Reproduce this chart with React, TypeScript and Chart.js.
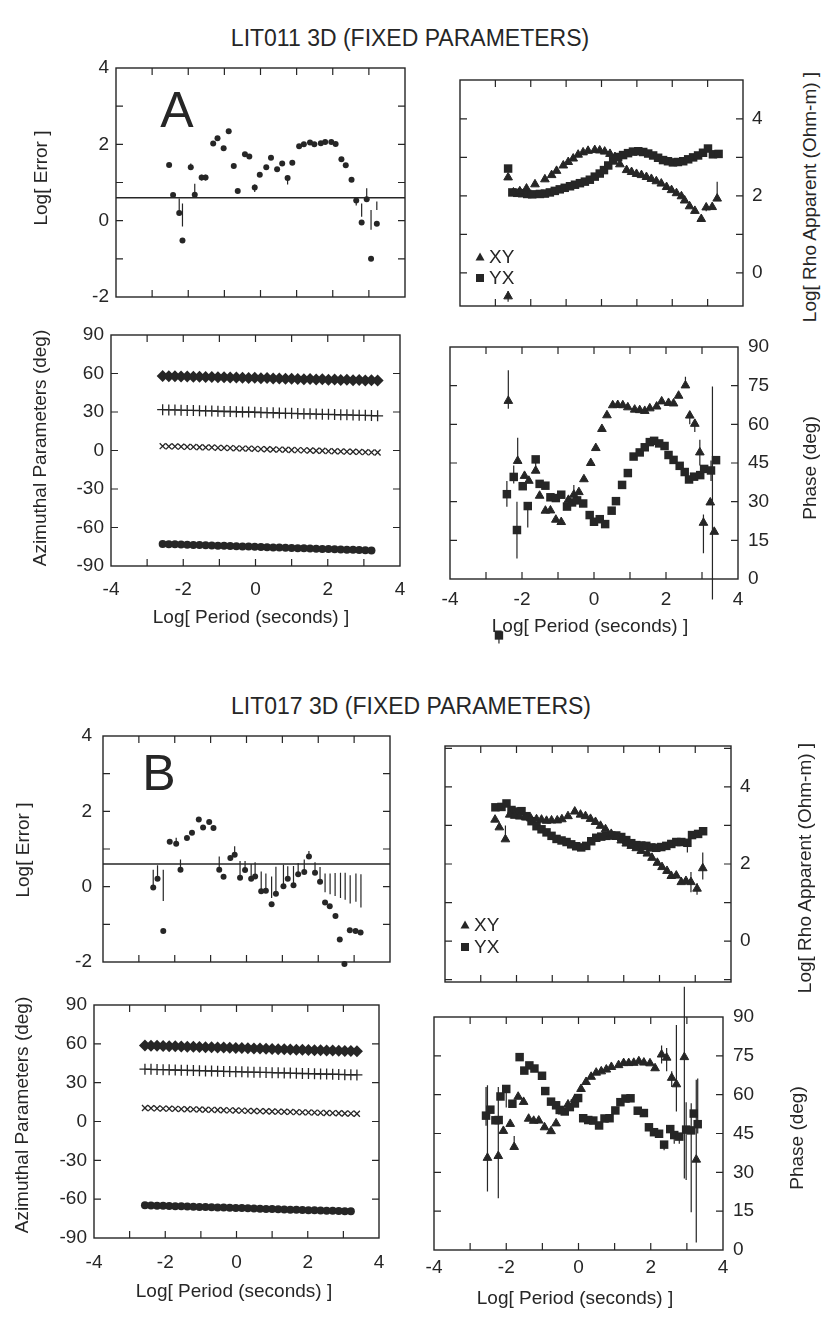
import React, { useEffect, useRef } from 'react';
import { Chart, registerables } from 'chart.js';

Chart.register(...registerables);

const FONT = '"Liberation Sans", Arial, Helvetica, sans-serif';
const INK = '#262626';

type Bar = [number, number, number];

// ================= LIT011 (A) =================
const errA_x = [-2.53, -2.42, -2.25, -2.16, -1.93, -1.82, -1.63, -1.52, -1.31, -1.19, -1.02, -0.88, -0.74, -0.63, -0.43, -0.31, -0.16, -0.02, 0.16, 0.29, 0.46, 0.6, 0.75, 0.88, 1.07, 1.2, 1.37, 1.49, 1.67, 1.79, 1.96, 2.08, 2.24, 2.36, 2.52, 2.65, 2.8, 2.94, 3.06, 3.22];
const errA_y = [1.46, 0.67, 0.2, -0.52, 1.4, 0.68, 1.13, 1.13, 2.02, 2.16, 1.9, 2.34, 1.43, 0.78, 1.74, 1.68, 0.87, 1.2, 1.4, 1.65, 1.35, 1.5, 1.12, 1.52, 1.95, 2.0, 2.05, 2.0, 2.03, 2.06, 2.06, 2.01, 1.61, 1.45, 1.07, 0.53, -0.05, 0.56, -1.0, -0.08];
const errA_bars: Bar[] = [[-2.25, 0.2, 0.58], [-2.16, -0.15, 0.45], [-1.93, 1.4, 1.5], [-1.82, 0.68, 0.97], [-1.63, 1.05, 1.2], [-1.52, 1.05, 1.2], [-0.16, 0.75, 0.95], [0.75, 0.95, 1.12], [2.65, 0.4, 0.6], [2.8, 0.1, 0.45], [2.94, 0.56, 0.85], [3.06, -0.24, 0.28], [3.22, 0.28, 0.5]];
const refLineA = 0.6;

const rhoA_xy_x = [-2.64, -2.64, -2.49, -2.31, -2.12, -1.88, -1.6, -1.41, -1.27, -1.08, -0.94, -0.8, -0.66, -0.52, -0.38, -0.19, -0.05, 0.09, 0.24, 0.38, 0.52, 0.71, 0.85, 0.99, 1.13, 1.27, 1.41, 1.55, 1.69, 1.84, 1.98, 2.12, 2.26, 2.35, 2.49, 2.64, 2.82, 2.96, 3.13, 3.27];
const rhoA_xy_y = [2.48, -0.61, 2.09, 2.12, 2.19, 2.3, 2.43, 2.54, 2.65, 2.79, 2.88, 2.97, 3.07, 3.13, 3.17, 3.19, 3.18, 3.15, 3.09, 3.01, 2.82, 2.67, 2.62, 2.57, 2.54, 2.49, 2.44, 2.38, 2.32, 2.23, 2.15, 2.07, 1.99, 1.88, 1.73, 1.61, 1.4, 1.7, 1.71, 1.93];
const rhoA_yx_x = [-2.64, -2.52, -2.38, -2.24, -2.1, -1.96, -1.74, -1.6, -1.46, -1.32, -1.18, -1.04, -0.89, -0.75, -0.61, -0.47, -0.33, -0.19, -0.05, 0.07, 0.19, 0.33, 0.47, 0.61, 0.75, 0.89, 1.04, 1.18, 1.32, 1.46, 1.6, 1.74, 1.88, 2.02, 2.16, 2.31, 2.45, 2.59, 2.73, 2.87, 3.01, 3.15, 3.31];
const rhoA_yx_y = [2.71, 2.09, 2.08, 2.07, 2.05, 2.04, 2.05, 2.06, 2.09, 2.13, 2.17, 2.21, 2.25, 2.29, 2.33, 2.37, 2.42, 2.5, 2.58, 2.67, 2.79, 2.92, 3.01, 3.06, 3.11, 3.15, 3.16, 3.14, 3.1, 3.05, 2.99, 2.93, 2.9, 2.87, 2.88, 2.9, 2.95, 3.0, 3.05, 3.12, 3.23, 3.08, 3.09];
const rhoA_bars: Bar[] = [[-2.64, -0.75, -0.47], [3.27, 1.93, 2.37], [2.96, 1.6, 1.8]];

const phA_xy_x = [-2.38, -2.12, -1.93, -1.81, -1.62, -1.51, -1.35, -1.21, -1.06, -0.91, -0.71, -0.56, -0.42, -0.28, -0.09, 0.05, 0.22, 0.36, 0.52, 0.66, 0.8, 0.94, 1.13, 1.27, 1.41, 1.55, 1.74, 1.88, 2.07, 2.21, 2.35, 2.54, 2.66, 2.8, 2.94, 3.04, 3.23, 3.34];
const phA_xy_y = [69.1, 45.8, 40.0, 38.1, 42.0, 32.3, 26.5, 26.6, 23.0, 22.1, 30.7, 32.7, 33.7, 38.7, 45.0, 50.8, 58.2, 63.5, 67.4, 67.5, 67.4, 66.6, 65.7, 65.5, 65.2, 66.2, 66.9, 68.9, 68.3, 68.1, 71.1, 75.1, 63.4, 60.2, 49.1, 21.8, 29.7, 18.3];
const phA_yx_x = [-2.42, -2.23, -2.14, -1.98, -1.84, -1.62, -1.51, -1.35, -1.21, -1.06, -0.91, -0.75, -0.61, -0.47, -0.3, -0.12, 0.0, 0.16, 0.31, 0.49, 0.61, 0.78, 0.94, 1.1, 1.27, 1.41, 1.55, 1.67, 1.81, 1.96, 2.07, 2.21, 2.38, 2.52, 2.64, 2.78, 2.95, 3.06, 3.25, 3.39];
const phA_yx_y = [32.9, 39.6, 19.0, 36.0, 28.3, 46.4, 36.9, 36.2, 31.7, 31.4, 32.7, 28.1, 29.7, 30.5, 29.3, 24.8, 22.2, 23.2, 21.3, 26.5, 30.2, 36.5, 41.1, 47.5, 49.1, 51.1, 53.1, 53.6, 52.6, 51.6, 48.1, 46.2, 43.9, 41.5, 38.6, 39.7, 40.3, 42.7, 42.1, 46.1];
// YX point that falls below the frame
const phA_yx_out_x = [-2.64];
const phA_yx_out_y = [-21.9];
const phA_bars: Bar[] = [[-2.38, 66, 81], [-2.12, 45.8, 54.8], [-1.62, 42, 45.5], [-0.56, 32.7, 36.5], [2.54, 75.1, 78.5], [2.66, 60, 65], [2.8, 57, 62], [2.94, 44, 54], [3.04, 10, 25], [3.29, -8, 74.7], [-2.42, 28, 38], [-2.23, 37, 44], [-2.14, 8, 30], [-1.84, 20, 28.3], [-2.64, -25, -21.9], [3.25, 38, 46]];

// azimuthal parameters (shared period list)
const azPeriods = [-2.57, -2.4, -2.23, -2.06, -1.89, -1.72, -1.55, -1.38, -1.21, -1.04, -0.87, -0.7, -0.53, -0.36, -0.19, -0.02, 0.15, 0.32, 0.49, 0.66, 0.83, 1.0, 1.17, 1.34, 1.51, 1.68, 1.85, 2.02, 2.19, 2.36, 2.53, 2.7, 2.87, 3.04, 3.21, 3.38];
const azA_diam = [58.1, 57.9, 57.9, 57.6, 57.7, 57.4, 57.5, 57.2, 57.3, 57.0, 57.1, 56.8, 56.9, 56.7, 56.5, 56.6, 56.3, 56.4, 56.1, 56.2, 55.9, 56.0, 55.8, 55.6, 55.7, 55.4, 55.5, 55.2, 55.3, 55.0, 55.1, 54.8, 54.9, 54.6, 54.7, 54.5];
const azA_plus = [31.8, 31.6, 31.6, 31.4, 31.2, 31.2, 31.0, 30.8, 30.8, 30.6, 30.4, 30.4, 30.2, 30.0, 30.0, 29.8, 29.6, 29.5, 29.4, 29.2, 29.0, 29.0, 28.8, 28.6, 28.6, 28.4, 28.2, 28.2, 28.0, 27.8, 27.8, 27.6, 27.4, 27.4, 27.2, 27.0];
const azA_cross = [3.4, 3.2, 3.2, 3.0, 2.8, 2.8, 2.5, 2.4, 2.4, 2.1, 2.0, 1.9, 1.7, 1.5, 1.5, 1.3, 1.1, 1.0, 0.8, 0.7, 0.6, 0.4, 0.3, 0.1, 0.0, -0.2, -0.2, -0.5, -0.6, -0.7, -0.9, -1.0, -1.1, -1.3, -1.5, -1.6];
const azA_circ = [-72.8, -73.0, -73.1, -73.2, -73.4, -73.6, -73.7, -73.8, -74.0, -74.2, -74.3, -74.4, -74.6, -74.8, -74.9, -75.0, -75.2, -75.4, -75.5, -75.6, -75.8, -76.0, -76.1, -76.2, -76.4, -76.6, -76.7, -76.8, -77.0, -77.2, -77.3, -77.4, -77.6, -77.8, -77.9];

// ================= LIT017 (B) =================
const errB_x = [-2.6, -2.48, -2.32, -2.14, -1.96, -1.84, -1.66, -1.52, -1.33, -1.21, -1.04, -0.92, -0.76, -0.64, -0.45, -0.33, -0.18, -0.04, 0.13, 0.24, 0.41, 0.54, 0.7, 0.82, 1.03, 1.15, 1.31, 1.44, 1.61, 1.74, 1.91, 2.05, 2.19, 2.32, 2.48, 2.6, 2.73, 2.88, 3.04, 3.18];
const errB_y = [-0.02, 0.21, -1.18, 1.19, 1.14, 0.45, 1.29, 1.43, 1.78, 1.57, 1.72, 1.56, 0.45, 0.26, 0.76, 0.85, 0.24, 0.44, 0.21, 0.27, -0.12, -0.11, -0.47, -0.19, 0.01, 0.21, 0.04, 0.33, 0.39, 0.8, 0.37, 0.13, -0.42, -0.52, -0.78, -1.4, -2.05, -1.16, -1.18, -1.22];
const errB_bars: Bar[] = [[-2.6, -0.02, 0.45], [-2.48, 0.21, 0.57], [-2.32, -0.38, 0.45], [-1.96, 1.14, 1.3], [-1.84, 0.45, 0.72], [-0.76, 0.45, 0.8], [-0.33, 0.85, 1.07], [-0.18, 0.24, 0.68], [-0.04, 0.44, 0.68], [0.13, 0.21, 0.6], [0.24, 0.27, 0.65], [0.41, -0.12, 0.4], [0.54, -0.11, 0.35], [0.7, -0.3, 0.27], [0.82, -0.19, 0.53], [1.03, 0.01, 0.58], [1.15, 0.21, 0.54], [1.31, 0.04, 0.55], [1.44, 0.33, 0.63], [1.61, 0.39, 0.72], [1.74, 0.8, 0.95], [1.91, 0.37, 0.65], [2.05, 0.13, 0.52], [2.19, -0.15, 0.35], [2.33, -0.2, 0.35], [2.47, -0.25, 0.36], [2.62, -0.3, 0.37], [2.75, -0.35, 0.37], [2.89, -0.45, 0.3], [3.05, -0.4, 0.35], [3.19, -0.55, 0.33]];
const refLineB = 0.6;

const rhoB_xy_x = [-2.6, -2.48, -2.31, -2.19, -2.05, -1.91, -1.75, -1.6, -1.44, -1.3, -1.16, -1.02, -0.86, -0.73, -0.56, -0.37, -0.21, -0.07, 0.07, 0.21, 0.35, 0.49, 0.65, 0.79, 0.93, 1.07, 1.21, 1.35, 1.49, 1.66, 1.79, 1.94, 2.07, 2.21, 2.33, 2.47, 2.61, 2.74, 2.88, 3.05, 3.21];
const rhoB_xy_y = [3.15, 2.95, 2.64, 3.28, 3.25, 3.23, 3.21, 3.18, 3.16, 3.15, 3.12, 3.13, 3.13, 3.16, 3.24, 3.36, 3.28, 3.24, 3.17, 3.09, 2.99, 2.9, 2.78, 2.7, 2.61, 2.53, 2.47, 2.41, 2.34, 2.27, 2.16, 2.03, 1.92, 1.82, 1.69, 1.7, 1.53, 1.56, 1.53, 1.36, 1.89];
const rhoB_yx_x = [-2.59, -2.42, -2.28, -2.14, -2.0, -1.86, -1.72, -1.58, -1.44, -1.3, -1.16, -1.02, -0.88, -0.74, -0.6, -0.47, -0.33, -0.19, -0.05, 0.09, 0.23, 0.37, 0.51, 0.65, 0.79, 0.93, 1.07, 1.21, 1.35, 1.49, 1.63, 1.77, 1.91, 2.05, 2.19, 2.33, 2.47, 2.61, 2.78, 2.91, 3.08, 3.22];
const rhoB_yx_y = [3.47, 3.48, 3.57, 3.4, 3.36, 3.37, 3.24, 3.11, 2.98, 2.9, 2.82, 2.73, 2.65, 2.61, 2.57, 2.51, 2.46, 2.43, 2.47, 2.59, 2.68, 2.71, 2.73, 2.74, 2.74, 2.7, 2.62, 2.54, 2.49, 2.48, 2.47, 2.43, 2.42, 2.44, 2.47, 2.52, 2.57, 2.57, 2.55, 2.75, 2.78, 2.85];
const rhoB_bars: Bar[] = [[-2.31, 2.64, 3.0], [2.88, 1.27, 1.79], [3.05, 1.2, 1.5], [3.21, 1.6, 2.3], [2.78, 2.3, 2.55]];

const phB_xy_x = [-2.52, -2.22, -2.08, -1.89, -1.78, -1.67, -1.52, -1.38, -1.24, -1.1, -0.94, -0.76, -0.62, -0.45, -0.29, -0.1, 0.07, 0.21, 0.35, 0.49, 0.63, 0.77, 0.91, 1.11, 1.25, 1.39, 1.53, 1.67, 1.81, 1.98, 2.12, 2.3, 2.44, 2.58, 2.71, 2.93, 3.26];
const phB_xy_y = [35.6, 36.3, 46.0, 48.7, 39.8, 59.2, 57.2, 50.7, 49.9, 50.0, 47.4, 45.9, 48.9, 53.5, 56.2, 58.3, 62.2, 64.9, 66.9, 68.5, 69.0, 69.7, 70.7, 71.4, 72.2, 72.2, 72.3, 72.9, 72.4, 72.1, 70.2, 75.5, 74.3, 66.5, 64.0, 74.5, 34.9];
const phB_yx_x = [-2.56, -2.44, -2.3, -2.21, -2.16, -2.0, -1.83, -1.63, -1.5, -1.36, -1.22, -1.01, -0.92, -0.76, -0.62, -0.52, -0.38, -0.24, -0.1, -0.01, 0.13, 0.27, 0.41, 0.57, 0.72, 0.86, 1.02, 1.16, 1.3, 1.44, 1.64, 1.81, 1.95, 2.09, 2.23, 2.37, 2.54, 2.65, 2.79, 2.98, 3.12, 3.19, 3.3];
const phB_yx_y = [51.9, 54.2, 50.1, 50.2, 59.3, 62.2, 56.5, 74.5, 69.3, 71.3, 70.1, 67.3, 61.4, 57.3, 55.9, 54.1, 53.5, 55.2, 56.6, 58.7, 50.9, 50.2, 50.0, 48.1, 50.8, 50.9, 53.9, 57.1, 58.5, 58.6, 53.8, 52.9, 47.4, 45.5, 44.9, 40.7, 46.7, 44.4, 43.8, 46.5, 46.2, 52.7, 48.6];
const phB_bars: Bar[] = [[-2.52, 22.6, 63.6], [-2.22, 20.0, 63.0], [-1.78, 39.8, 44], [2.3, 72, 79], [2.44, 69, 78], [2.58, 63, 69], [2.71, 53.5, 86.9], [2.93, 27.6, 101.7], [3.26, 2.9, 65.8], [-2.56, 48, 63], [-2.0, 55, 62.2], [2.37, 38.5, 40.7], [2.65, 41, 44.4], [2.79, 41, 43.8], [2.98, 27.0, 57.1], [3.12, 14.6, 56.7], [3.3, 45, 66.2]];

const azB_diam = [58.7, 58.6, 58.5, 58.3, 58.2, 58.1, 58.0, 57.8, 57.7, 57.6, 57.4, 57.3, 57.2, 57.1, 56.9, 56.8, 56.7, 56.5, 56.4, 56.3, 56.2, 56.0, 55.9, 55.8, 55.7, 55.5, 55.4, 55.3, 55.1, 55.0, 54.9, 54.8, 54.6, 54.5, 54.4, 54.3];
const azB_plus = [40.4, 40.3, 40.1, 40.0, 39.9, 39.8, 39.6, 39.5, 39.4, 39.3, 39.1, 39.0, 38.9, 38.7, 38.6, 38.5, 38.4, 38.2, 38.1, 38.0, 37.9, 37.7, 37.6, 37.5, 37.4, 37.2, 37.1, 37.0, 36.9, 36.7, 36.6, 36.5, 36.4, 36.2, 36.1, 36.0];
const azB_cross = [10.4, 10.3, 10.1, 10.0, 9.9, 9.8, 9.6, 9.5, 9.4, 9.3, 9.1, 9.0, 8.9, 8.7, 8.6, 8.5, 8.4, 8.2, 8.1, 8.0, 7.9, 7.7, 7.6, 7.5, 7.4, 7.2, 7.1, 7.0, 6.9, 6.7, 6.6, 6.5, 6.4, 6.2, 6.1, 6.0];
const azB_circ = [-64.7, -64.8, -65.0, -65.1, -65.3, -65.4, -65.5, -65.7, -65.8, -66.0, -66.1, -66.2, -66.4, -66.5, -66.7, -66.8, -66.9, -67.1, -67.2, -67.4, -67.5, -67.6, -67.8, -67.9, -68.1, -68.2, -68.3, -68.5, -68.6, -68.8, -68.9, -69.0, -69.2, -69.3, -69.4];

// ================= helpers =================
const zip = (xs: number[], ys: number[]) => ys.map((y, i) => ({ x: xs[i], y }));

const framePlugin = {
  id: 'frame',
  afterDatasetsDraw(chart: any) {
    const { ctx, chartArea: a, scales } = chart;
    const L = 7;
    ctx.save();
    ctx.strokeStyle = INK;
    ctx.lineWidth = 1.4;
    ctx.strokeRect(a.left, a.top, a.right - a.left, a.bottom - a.top);
    ctx.lineWidth = 1.2;
    ctx.beginPath();
    scales.x.ticks.forEach((t: any) => {
      const p = scales.x.getPixelForValue(t.value);
      if (p < a.left + 2 || p > a.right - 2) return;
      ctx.moveTo(p, a.bottom); ctx.lineTo(p, a.bottom - L);
      ctx.moveTo(p, a.top); ctx.lineTo(p, a.top + L);
    });
    scales.y.ticks.forEach((t: any) => {
      const p = scales.y.getPixelForValue(t.value);
      if (p < a.top + 2 || p > a.bottom - 2) return;
      ctx.moveTo(a.left, p); ctx.lineTo(a.left + L, p);
      ctx.moveTo(a.right, p); ctx.lineTo(a.right - L, p);
    });
    ctx.stroke();
    ctx.restore();
  },
};

function errorBarPlugin(bars: Bar[]) {
  return {
    id: 'errbars',
    afterDatasetsDraw(chart: any) {
      const { ctx, scales } = chart;
      ctx.save();
      ctx.strokeStyle = INK;
      ctx.lineWidth = 1.2;
      ctx.beginPath();
      bars.forEach(([x, lo, hi]) => {
        const px = scales.x.getPixelForValue(x);
        ctx.moveTo(px, scales.y.getPixelForValue(lo));
        ctx.lineTo(px, scales.y.getPixelForValue(hi));
      });
      ctx.stroke();
      ctx.restore();
    },
  };
}

// squares that lie outside the frame (Chart.js skips points outside the chart area)
function outlierSquarePlugin(xs: number[], ys: number[]) {
  return {
    id: 'outliers',
    afterDatasetsDraw(chart: any) {
      const { ctx, scales } = chart;
      ctx.save();
      ctx.fillStyle = INK;
      ys.forEach((y, i) => {
        const px = scales.x.getPixelForValue(xs[i]);
        const py = scales.y.getPixelForValue(y);
        ctx.fillRect(px - 4.2, py - 4.2, 8.4, 8.4);
      });
      ctx.restore();
    },
  };
}

function insetLegendPlugin(dy1: number, dy2: number) {
  return {
    id: 'insetLegend',
    afterDatasetsDraw(chart: any) {
      const { ctx, chartArea: a } = chart;
      const mx = a.left + 20;
      ctx.save();
      ctx.fillStyle = INK;
      let y = a.bottom - dy1;
      ctx.beginPath();
      ctx.moveTo(mx, y - 4.5); ctx.lineTo(mx + 4.5, y + 3.5); ctx.lineTo(mx - 4.5, y + 3.5); ctx.closePath();
      ctx.fill();
      ctx.font = `19px ${FONT}`;
      ctx.textBaseline = 'middle';
      ctx.fillText(chart.data.datasets[0].label, mx + 9, y + 1);
      y = a.bottom - dy2;
      ctx.fillRect(mx - 4, y - 4, 8, 8);
      ctx.fillText(chart.data.datasets[1].label, mx + 9, y + 1);
      ctx.restore();
    },
  };
}

const base = { showLine: false, clip: false, backgroundColor: INK, borderColor: INK };
const triSet = (label: string, data: any[]) => ({ ...base, label, data, pointStyle: 'triangle', pointRadius: 5, borderWidth: 1 });
const sqSet = (label: string, data: any[]) => ({ ...base, label, data, pointStyle: 'rect', pointRadius: 6, borderWidth: 0 });
const dotSet = (data: any[]) => ({ ...base, label: 'error', data, pointStyle: 'circle', pointRadius: 3, borderWidth: 0 });
const refSet = (v: number) => ({ label: 'ref', data: [{ x: -4, y: v }, { x: 4, y: v }], showLine: true, pointRadius: 0, borderColor: INK, borderWidth: 1.4 });
const azSets = (d: number[], p: number[], c: number[], o: number[]) => [
  { ...base, label: 'a', data: zip(azPeriods, d), pointStyle: 'rectRot', pointRadius: 6, borderWidth: 0 },
  { ...base, label: 'b', data: zip(azPeriods, p), pointStyle: 'cross', pointRadius: 5.5, borderWidth: 1.3 },
  { ...base, label: 'c', data: zip(azPeriods, c), pointStyle: 'crossRot', pointRadius: 4.2, borderWidth: 1.3 },
  { ...base, label: 'd', data: zip(azPeriods, o), pointStyle: 'circle', pointRadius: 4, borderWidth: 0 },
];

interface Spec {
  plot: { l: number; t: number; r: number; b: number };
  canvas: { x: number; y: number; r: number; b: number };
  yMin: number; yMax: number; yStep: number;
  yLabel: (v: number) => string;
  ySide: 'left' | 'right';
  yPad: number;
  xLabels: boolean;
  xPad: number;
  datasets: any[];
  plugins: any[];
}

function buildConfig(s: Spec): any {
  const p = s.plot, c = s.canvas;
  const left = s.ySide === 'left';
  const yW = left ? p.l - c.x : c.r - p.r;
  const font = { family: FONT, size: 19 };
  return {
    type: 'scatter',
    data: { datasets: s.datasets },
    options: {
      responsive: false,
      animation: false,
      devicePixelRatio: 1,
      events: [],
      layout: {
        autoPadding: false,
        padding: { left: left ? 0 : p.l - c.x, right: left ? c.r - p.r : 0, top: p.t - c.y, bottom: 0 },
      },
      plugins: { legend: { display: false }, tooltip: { enabled: false } },
      scales: {
        x: {
          type: 'linear', position: 'bottom', min: -4, max: 4,
          ticks: {
            stepSize: 1, autoSkip: false, maxRotation: 0, display: s.xLabels, padding: s.xPad,
            font, color: INK, callback: (v: number) => (v % 2 === 0 ? String(v) : ''),
          },
          grid: { display: false, drawTicks: false },
          border: { display: false },
          afterFit: (sc: any) => {
            sc.height = c.b - p.b;
            sc.paddingLeft = 0; sc.paddingRight = 0; sc.paddingTop = 0; sc.paddingBottom = 0;
          },
        },
        y: {
          type: 'linear', position: s.ySide, min: s.yMin, max: s.yMax,
          ticks: { stepSize: s.yStep, autoSkip: false, includeBounds: false, padding: s.yPad, font, color: INK, callback: s.yLabel },
          grid: { display: false, drawTicks: false },
          border: { display: false },
          afterFit: (sc: any) => {
            sc.width = yW;
            sc.paddingLeft = 0; sc.paddingRight = 0; sc.paddingTop = 0; sc.paddingBottom = 0;
          },
        },
      },
    },
    plugins: [framePlugin, ...s.plugins],
  };
}

const evenLabel = (v: number) => (Math.abs(v % 2) < 1e-9 ? String(Math.round(v)) : '');
const allLabel = (v: number) => String(v);

function Panel({ spec }: { spec: Spec }) {
  const ref = useRef<HTMLCanvasElement>(null);
  const c = spec.canvas;
  const w = c.r - c.x, h = c.b - c.y;
  useEffect(() => {
    const chart = new Chart(ref.current as HTMLCanvasElement, buildConfig(spec));
    return () => chart.destroy();
  }, []);
  return (
    <div style={{ position: 'absolute', left: c.x, top: c.y, width: w, height: h }}>
      <canvas ref={ref} width={w} height={h} style={{ width: w, height: h, display: 'block' }} />
    </div>
  );
}

// text centred on (x, y); even-sized box so rotation stays pixel-aligned
function Txt({ x, y, size = 19, rot = false, children }: any) {
  const W = 420;
  const H = 2 * Math.round(size * 0.6);
  return (
    <div
      style={{
        position: 'absolute', left: x - W / 2, top: y - H / 2, width: W, height: H,
        lineHeight: `${H}px`, textAlign: 'center',
        transform: rot ? 'rotate(-90deg)' : undefined,
        fontFamily: FONT, fontSize: size, color: INK, whiteSpace: 'nowrap',
      }}
    >
      {children}
    </div>
  );
}

const specs: Spec[] = [
  {
    plot: { l: 116, t: 68, r: 405, b: 297 }, canvas: { x: 56, y: 58, r: 415, b: 307 },
    yMin: -2, yMax: 4, yStep: 1, yLabel: evenLabel, ySide: 'left', yPad: 7, xLabels: false, xPad: 0,
    datasets: [refSet(refLineA), dotSet(zip(errA_x, errA_y))],
    plugins: [errorBarPlugin(errA_bars)],
  },
  {
    plot: { l: 460, t: 80, r: 743, b: 306 }, canvas: { x: 440, y: 70, r: 790, b: 316 },
    yMin: -0.86, yMax: 5.01, yStep: 1, yLabel: evenLabel, ySide: 'right', yPad: 9, xLabels: false, xPad: 0,
    datasets: [triSet('XY', zip(rhoA_xy_x, rhoA_xy_y)), sqSet('YX', zip(rhoA_yx_x, rhoA_yx_y))],
    plugins: [errorBarPlugin(rhoA_bars), insetLegendPlugin(49, 28)],
  },
  {
    plot: { l: 111, t: 335, r: 400, b: 566 }, canvas: { x: 51, y: 325, r: 410, b: 602 },
    yMin: -90, yMax: 90, yStep: 30, yLabel: allLabel, ySide: 'left', yPad: 7, xLabels: true, xPad: 12,
    datasets: azSets(azA_diam, azA_plus, azA_cross, azA_circ),
    plugins: [],
  },
  {
    plot: { l: 450, t: 347, r: 738, b: 579 }, canvas: { x: 425, y: 337, r: 790, b: 645 },
    yMin: 0, yMax: 90, yStep: 15, yLabel: allLabel, ySide: 'right', yPad: 10, xLabels: true, xPad: 9,
    datasets: [triSet('XY', zip(phA_xy_x, phA_xy_y)), sqSet('YX', zip(phA_yx_x, phA_yx_y))],
    plugins: [errorBarPlugin(phA_bars), outlierSquarePlugin(phA_yx_out_x, phA_yx_out_y)],
  },
  {
    plot: { l: 103, t: 736, r: 390, b: 962 }, canvas: { x: 43, y: 726, r: 400, b: 985 },
    yMin: -2, yMax: 4, yStep: 1, yLabel: evenLabel, ySide: 'left', yPad: 11, xLabels: false, xPad: 0,
    datasets: [refSet(refLineB), dotSet(zip(errB_x, errB_y))],
    plugins: [errorBarPlugin(errB_bars)],
  },
  {
    plot: { l: 445, t: 746, r: 731, b: 982 }, canvas: { x: 425, y: 736, r: 790, b: 992 },
    yMin: -1.06, yMax: 5.06, yStep: 1, yLabel: evenLabel, ySide: 'right', yPad: 9, xLabels: false, xPad: 0,
    datasets: [triSet('XY', zip(rhoB_xy_x, rhoB_xy_y)), sqSet('YX', zip(rhoB_yx_x, rhoB_yx_y))],
    plugins: [errorBarPlugin(rhoB_bars), insetLegendPlugin(57, 35)],
  },
  {
    plot: { l: 94, t: 1005, r: 379, b: 1238 }, canvas: { x: 34, y: 995, r: 389, b: 1278 },
    yMin: -90, yMax: 90, yStep: 30, yLabel: allLabel, ySide: 'left', yPad: 7, xLabels: true, xPad: 13,
    datasets: azSets(azB_diam, azB_plus, azB_cross, azB_circ),
    plugins: [],
  },
  {
    plot: { l: 434, t: 1017, r: 723, b: 1250 }, canvas: { x: 410, y: 985, r: 790, b: 1285 },
    yMin: 0, yMax: 90, yStep: 15, yLabel: allLabel, ySide: 'right', yPad: 10, xLabels: true, xPad: 6,
    datasets: [triSet('XY', zip(phB_xy_x, phB_xy_y)), sqSet('YX', zip(phB_yx_x, phB_yx_y))],
    plugins: [errorBarPlugin(phB_bars)],
  },
];

export default function App() {
  return (
    <div style={{ position: 'absolute', left: 0, top: 0, width: 833, height: 1317, background: '#fff', overflow: 'hidden' }}>
      {specs.map((s, i) => <Panel key={i} spec={s} />)}

      <Txt x={410} y={38} size={23}>LIT011 3D (FIXED PARAMETERS)</Txt>
      <Txt x={177} y={110} size={50}>A</Txt>
      <Txt x={41} y={178} rot>Log[ Error ]</Txt>
      <Txt x={810} y={197} rot>Log[ Rho Apparent (Ohm-m) ]</Txt>
      <Txt x={40} y={448} rot>Azimuthal Parameters (deg)</Txt>
      <Txt x={251} y={617}>Log[ Period (seconds) ]</Txt>
      <Txt x={590} y={626}>Log[ Period (seconds) ]</Txt>
      <Txt x={810} y={468} rot>Phase (deg)</Txt>

      <Txt x={411} y={706} size={23}>LIT017 3D (FIXED PARAMETERS)</Txt>
      <Txt x={159} y={773} size={50}>B</Txt>
      <Txt x={23} y={850} rot>Log[ Error ]</Txt>
      <Txt x={805} y={868} rot>Log[ Rho Apparent (Ohm-m) ]</Txt>
      <Txt x={22} y={1115} rot>Azimuthal Parameters (deg)</Txt>
      <Txt x={234} y={1291}>Log[ Period (seconds) ]</Txt>
      <Txt x={575} y={1298}>Log[ Period (seconds) ]</Txt>
      <Txt x={797} y={1138} rot>Phase (deg)</Txt>
    </div>
  );
}
